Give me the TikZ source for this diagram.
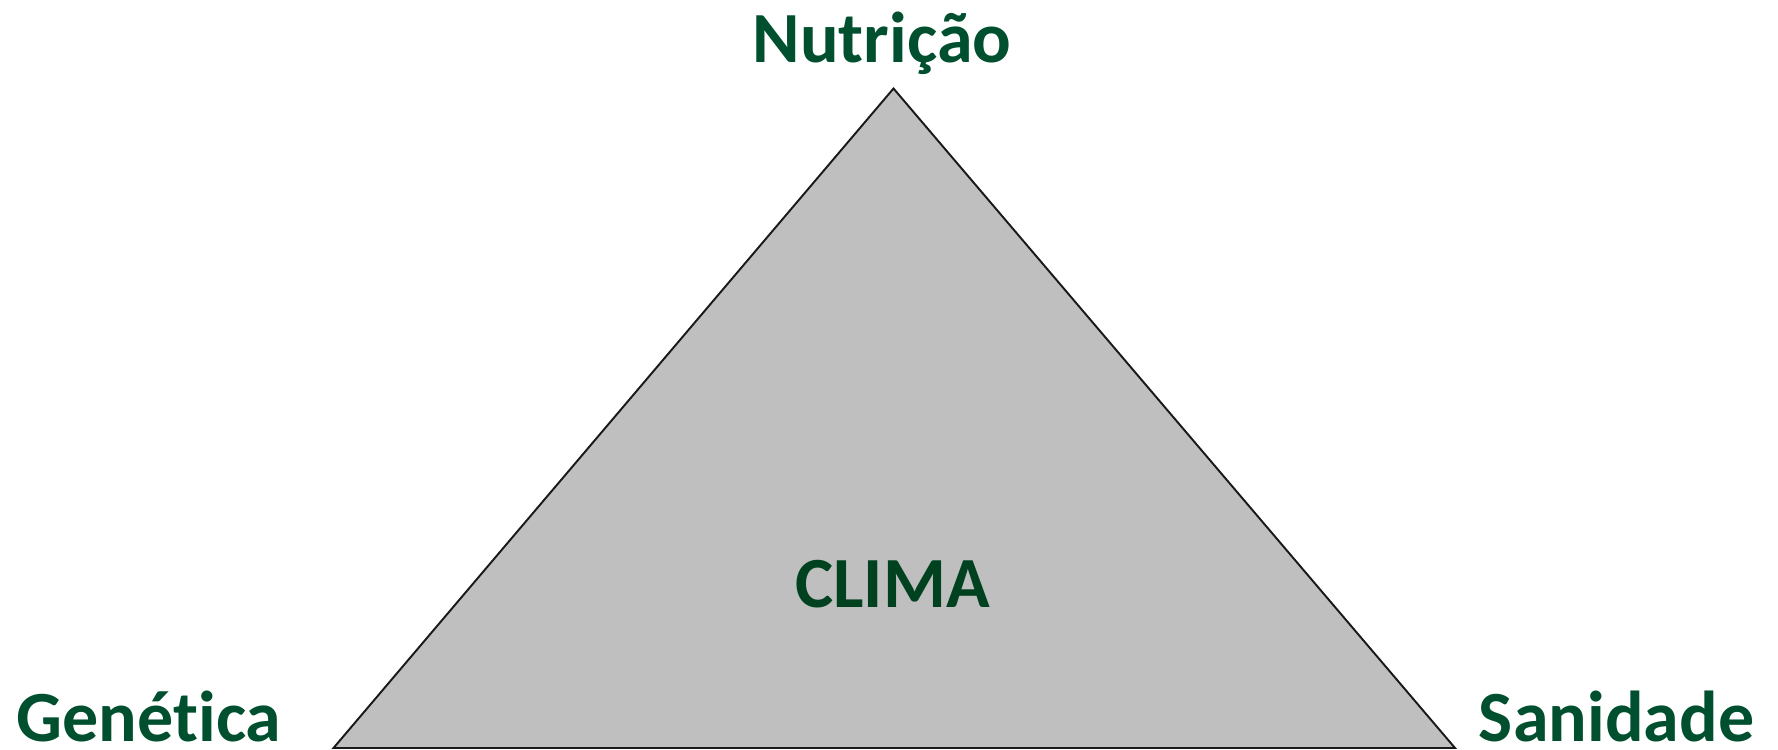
\documentclass[tikz,border=0pt]{standalone}
\usepackage{fontspec}
\setmainfont{Carlito}[Ligatures={NoCommon}]
\usepackage{tikz}
\definecolor{labelgreen}{HTML}{00502F}
\definecolor{climagreen}{HTML}{00421F}
\definecolor{trigrey}{HTML}{BFBFBF}

\begin{document}
\begin{tikzpicture}[
	factor/.style={text=labelgreen,font=\fontsize{41}{48}\selectfont\bfseries,anchor=base,inner sep=0pt}
	]
	\useasboundingbox (0,0) rectangle (35.56,14.98);
	% triangle
	\coordinate (apex) at (17.87,13.21);
	\coordinate (lcorner) at (6.67,0.02);
	\coordinate (rcorner) at (29.10,0.02);
	\filldraw [fill=trigrey,draw=black!90,line width=1.1pt,line join=miter] (apex) -- (lcorner) -- (rcorner) -- cycle;
	
	% labels
	\node [factor] (nutr) at (17.64,13.73) {Nutrição};
	\node [factor] (gene) at (2.98,0.14) {Genética};
	\node [factor] (sani) at (32.33,0.14) {Sanidade};
	\node [factor,text=climagreen] (clima) at (17.85,2.82) {CLIMA};
\end{tikzpicture}
\end{document}
